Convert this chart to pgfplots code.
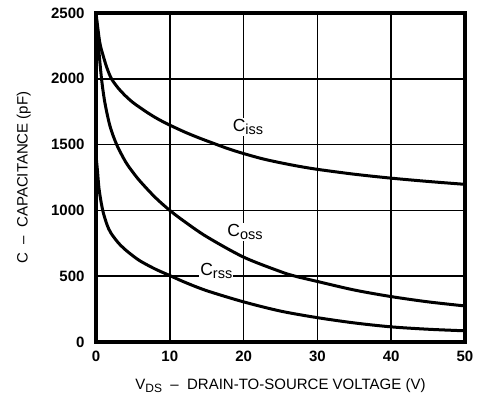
\documentclass[border=0pt]{standalone}
\usepackage{pgfplots}
\pgfplotsset{compat=1.18}
\usepackage{fontspec}
\setmainfont{Liberation Sans}
\newcommand{\lbl}[2]{{\fontsize{17.5}{17.5}\selectfont #1\raisebox{-3pt}{\fontsize{14.5}{14.5}\selectfont #2}}}
\begin{document}
\begin{tikzpicture}
\useasboundingbox (-96pt,-63pt) rectangle (383pt,342pt);
\begin{axis}[
  at={(0,0)}, anchor=south west,
  scale only axis, width=369pt, height=329pt,
  xmin=0, xmax=50, ymin=0, ymax=2500,
  xtick={0,10,20,30,40,50}, ytick={0,500,1000,1500,2000,2500},
  grid=major,
  major grid style={black, line width=1.5pt},
  axis line style={black, line width=3.2pt},
  major tick length=0pt,
  /pgf/number format/assume math mode=true,
  /pgf/number format/1000 sep={},
  ticklabel style={font=\bfseries\fontsize{15}{15}\selectfont},
  xticklabel style={yshift=-5pt},
  yticklabel style={xshift=-8pt},
  xlabel={V\raisebox{-3pt}{\fontsize{12}{12}\selectfont DS}\ \ --\ \ DRAIN-TO-SOURCE VOLTAGE (V)},
  ylabel={C\ \ --\ \ CAPACITANCE (pF)},
  every axis x label/.style={at={(axis description cs:0.5,-0.143)}, anchor=base, font=\fontsize{15}{15}\selectfont},
  every axis y label/.style={at={(axis description cs:-0.196,0.5)}, anchor=center, rotate=90, font=\fontsize{15}{15}\selectfont},
]
\addplot[black, line width=3pt, smooth] coordinates {
(0,2500)(0.5,2280)(1,2170)(1.5,2080)(2.1,2000)(3,1930)(4,1870)(5,1820)(6,1780)(7,1742)(8,1707)(9,1676)(10,1648)(12,1596)(14,1550)(16,1508)(18,1467)(20,1432)(22.5,1393)(25,1362)(27.5,1335)(30,1312)(35,1275)(40,1245)(45,1220)(50,1198)};
\addplot[black, line width=3pt, smooth] coordinates {
(0,2500)(0.3,2270)(0.75,2000)(1.2,1820)(1.9,1640)(2.8,1500)(4,1370)(5,1290)(6,1220)(8,1100)(10,1000)(12,915)(15,800)(20,645)(25,535)(27,500)(30,460)(35,395)(40,345)(45,305)(50,274)};
\addplot[black, line width=3pt, smooth] coordinates {
(0,1420)(0.2,1300)(0.4,1170)(0.7,1060)(1,980)(1.5,890)(2,830)(3,755)(4,700)(5,655)(6,615)(8,555)(10,505)(12,455)(15,390)(20,305)(25,235)(30,185)(35,145)(40,115)(45,97)(50,85)};
\node[fill=white, inner sep=1pt] at (axis cs:20.6,1634) {\lbl{C}{iss}};
\node[fill=white, inner sep=1pt] at (axis cs:20.2,836) {\lbl{C}{oss}};
\node[fill=white, inner sep=1pt] at (axis cs:16.3,540) {\lbl{C}{rss}};
\end{axis}
\end{tikzpicture}
\end{document}
